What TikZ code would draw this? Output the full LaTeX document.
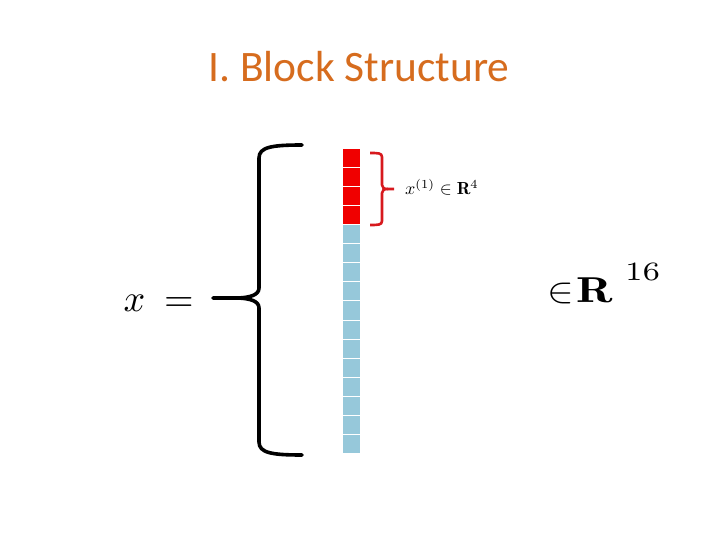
\documentclass[tikz,border=0pt]{standalone}
\usepackage{amsmath}
\usepackage{graphicx}
\usepackage{fontspec}
\newfontfamily\titlefont{Carlito}
\definecolor{titleorange}{RGB}{214,108,30}
\definecolor{cellblue}{RGB}{150,200,218}
\definecolor{cellred}{RGB}{240,0,0}
\definecolor{bracered}{RGB}{215,25,30}
\begin{document}
\begin{tikzpicture}[x=1pt,y=-1pt,
  cell/.style={draw=white,line width=0.9pt,minimum width=18pt,minimum height=19.06pt,inner sep=0pt,anchor=north west},
  redcell/.style={cell,fill=cellred},
  bluecell/.style={cell,fill=cellblue},
  bigbrace/.style={line width=3.6pt,black,line cap=round,line join=round},
  smallbrace/.style={line width=2.6pt,bracered,line cap=butt,line join=round}]
\useasboundingbox (0,0) rectangle (720,540);
\node[text=titleorange,font=\titlefont\fontsize{43.5}{48}\selectfont] (title) at (359,67) {I. Block Structure};
\foreach \i in {0,...,3} {
  \node[redcell] (c\i) at (342,{148+19.06*\i}) {};
}
\foreach \i in {4,...,15} {
  \node[bluecell] (c\i) at (342,{148+19.06*\i}) {};
}
% big brace
\draw[bigbrace] (302,145) .. controls (272,145) and (259,147) .. (259,158) -- (259,288)
   .. controls (259,295) and (250,297.5) .. (238,298) -- (213,298);
\draw[bigbrace] (302,455) .. controls (272,455) and (259,453) .. (259,442) -- (259,308)
   .. controls (259,301) and (250,298.5) .. (238,298);
% small brace
\draw[smallbrace] (370,153) .. controls (378,153) and (382,153) .. (382,157) -- (382,185)
   .. controls (382,188) and (384,189) .. (388,189) -- (394,189);
\draw[smallbrace] (370,225) .. controls (378,225) and (382,225) .. (382,221) -- (382,193)
   .. controls (382,190) and (384,189) .. (388,189);
\node[anchor=base west,inner sep=0pt] (lab) at (405,195) {\scalebox{1.8}[1.75]{$x^{(1)}\in\mathbf{R}^4$}};
\node[anchor=base east,inner sep=0pt] (xeq) at (194,311) {\scalebox{3.8}{$x\hspace{2.2pt}=$}};
\node[anchor=base west,inner sep=0pt] (r16) at (547,302) {\scalebox{4.0}[3.6]{$\in$\hspace{0.7pt}\scalebox{1.2}[1]{$\mathbf{R}$}\hspace{3.0pt}\raisebox{6.0pt}{\scalebox{1.1}[1.05]{$\scriptstyle 16$}}}};
\end{tikzpicture}
\end{document}
